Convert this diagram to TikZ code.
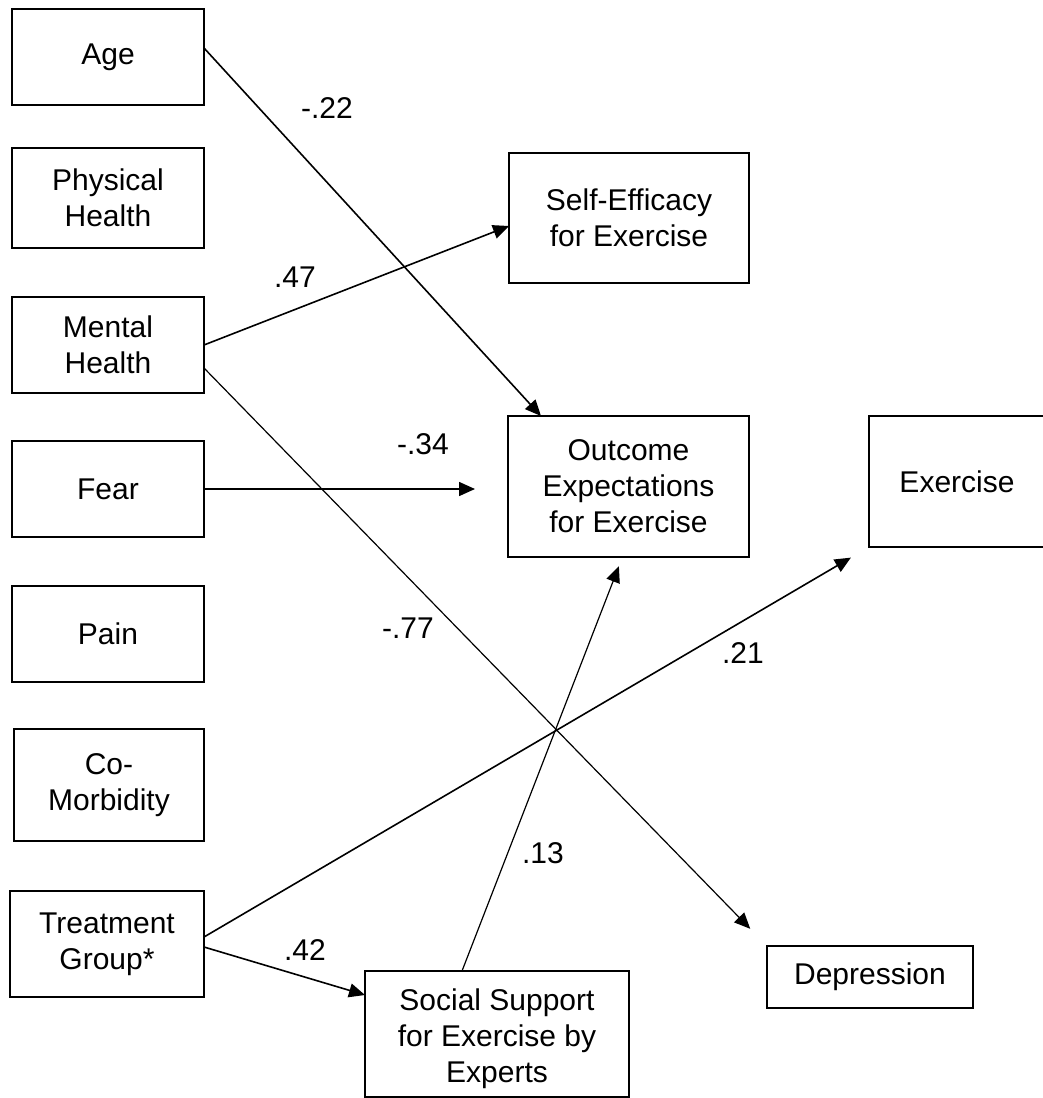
\documentclass[tikz,border=0pt]{standalone}
\usepackage{fontspec}
\setmainfont{Liberation Sans}
\usetikzlibrary{arrows.meta}
\tikzset{varbox/.style={draw, line width=2pt, align=center, inner sep=0pt, outer sep=0pt},
  coef/.style={inner sep=0pt}}

\begin{document}
\begin{tikzpicture}[x=1pt, y=-1pt, font=\fontsize{30}{36}\selectfont, >={Triangle[length=16pt,width=14pt]}, line width=1.6pt]
  \useasboundingbox (0,0) rectangle (1042,1098);
  % predictors
  \node[varbox, minimum width=192pt, minimum height=96pt] (age) at (108,57) {Age};
  \node[varbox, minimum width=192pt, minimum height=100pt] (phys) at (108,198) {Physical\\Health};
  \node[varbox, minimum width=192pt, minimum height=96pt] (mh) at (108,345) {Mental\\Health};
  \node[varbox, minimum width=192pt, minimum height=96pt] (fear) at (108,489) {Fear};
  \node[varbox, minimum width=192pt, minimum height=96pt] (pain) at (108,634) {Pain};
  \node[varbox, minimum width=190pt, minimum height=112pt] (comorb) at (109,785) {Co-\\Morbidity};
  \node[varbox, minimum width=194pt, minimum height=106pt] (tr) at (107,944) {Treatment\\Group*};
  % mediators and outcomes
  \node[varbox, minimum width=240pt, minimum height=130pt] (se) at (629,218) {Self-Efficacy\\for Exercise};
  \node[varbox, minimum width=241pt, minimum height=141pt] (out) at (628.5,486.5) {Outcome\\Expectations\\for Exercise};
  \node[varbox, minimum width=176pt, minimum height=131pt] (ex) at (957,481.5) {Exercise};
  \node[varbox, minimum width=206pt, minimum height=62pt] (dep) at (870,977) {Depression};
  \node[varbox, minimum width=264pt, minimum height=126pt] (ss) at (497,1034) {\\[-4pt]Social Support\\for Exercise by\\Experts};
  % paths
  \draw[->] ([yshift=9pt]age.east) -- ([xshift=33pt]out.north west);
  \draw[->] (mh.east) -- ([yshift=-8pt]se.west);
  \draw[->, line width=1.2pt, shorten >=24pt] ([yshift=-23pt]mh.east) -- (dep.north west);
  \draw[->, shorten >=33pt] (fear.east) -- (out.west |- fear.east);
  \draw[->, shorten >=21pt] ([yshift=7pt]tr.east) -- (ex.south west);
  \draw[->] ([yshift=-3pt]tr.east) -- ([yshift=39pt]ss.west);
  \draw[->, line width=1.2pt, shorten >=10pt] ([xshift=-35pt]ss.north) -- ([xshift=-6pt]out.south);
  % coefficients
  \node[coef] (c1) at (327,108) {-.22};
  \node[coef] (c2) at (295,277) {.47};
  \node[coef] (c3) at (423,444) {-.34};
  \node[coef] (c4) at (408,628) {-.77};
  \node[coef] (c5) at (743,653) {.21};
  \node[coef] (c6) at (543,853) {.13};
  \node[coef] (c7) at (305,950) {.42};
\end{tikzpicture}
\end{document}
